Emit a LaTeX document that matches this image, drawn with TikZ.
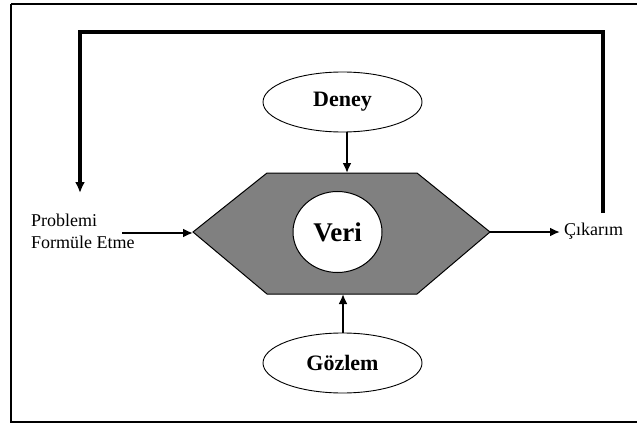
\documentclass[tikz,border=0pt]{standalone}
\usepackage{fontspec}
\setmainfont{Liberation Serif}
\usetikzlibrary{arrows.meta,shapes.geometric}
\begin{document}
\begin{tikzpicture}[x=1pt,y=-1pt,
  conn/.style={line width=2.2pt,-{Latex[length=10pt,width=9pt]}},
  feedback/.style={line width=3.4pt,-{Latex[length=11pt,width=10pt]}},
  oval/.style={ellipse,draw,line width=0.9pt,fill=white,minimum width=159pt,minimum height=60pt,inner sep=0pt,font=\fontsize{22}{26}\selectfont\bfseries},
  lbl/.style={font=\fontsize{18}{22}\selectfont,inner sep=0pt,align=left}]
\useasboundingbox (0,0) rectangle (637,425);
\clip (0,0) rectangle (637,425);
% frame
\draw[line width=2.2pt] (11,4) -- (650,4) (11,4) -- (11,422) -- (650,422);
% hexagon
\coordinate (hexL) at (193,232);
\coordinate (hexTL) at (267,173);
\coordinate (hexTR) at (417,173);
\coordinate (hexR) at (490,232);
\coordinate (hexBR) at (417,294);
\coordinate (hexBL) at (267,294);
\coordinate (hexT) at (347,173);
\coordinate (hexB) at (343,294);
\draw[line width=1pt,fill={rgb,255:red,128;green,128;blue,128}] (hexL) -- (hexTL) -- (hexTR) -- (hexR) -- (hexBR) -- (hexBL) -- cycle;
\node[ellipse,draw,line width=1pt,fill=white,minimum width=89pt,minimum height=81pt,inner sep=0pt,font=\fontsize{27}{30}\selectfont\bfseries] (veri) at (337.5,232) {Veri};
% ovals
\node[oval] (deney) at (342.5,102) {Deney};
\node[oval] (gozlem) at (342.5,363) {Gözlem};
% labels
\node[lbl,anchor=west] (prob) at (31,231) {Problemi\\Formüle Etme};
\node[lbl,anchor=west] (cik) at (564,231) {Çıkarım};
% connectors
\coordinate (inS) at (122,233);
\coordinate (outE) at (560,232);
\draw[conn] (deney.south -| hexT) -- (hexT);
\draw[conn] (gozlem.north -| hexB) -- (hexB);
\draw[conn] (inS) -- (hexL |- inS);
\draw[conn] (hexR) -- (outE);
\coordinate (fbS) at (603,213);
\coordinate (fbE) at (80,193);
\draw[feedback] (fbS) -- (603,32) -- (80,32) -- (fbE);
\end{tikzpicture}
\end{document}
